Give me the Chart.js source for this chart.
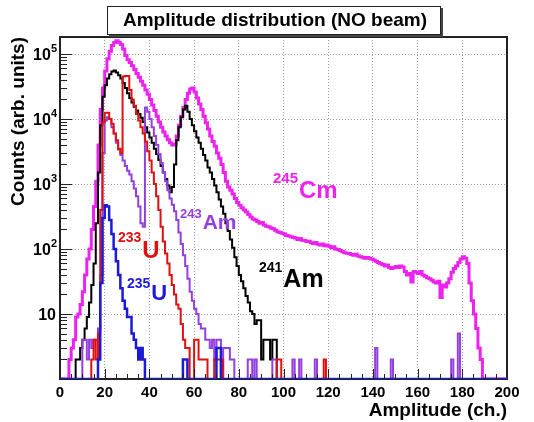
<!DOCTYPE html>
<html>
<head>
<meta charset="utf-8">
<script src="https://cdn.jsdelivr.net/npm/chart.js@4.4.1/dist/chart.umd.min.js"></script>
<style>
  html, body { margin: 0; padding: 0; background: #fff; }
  canvas { display: block; }
</style>
</head>
<body>
<canvas id="amplitudeChart" width="534" height="422"></canvas>
<script>
// counts per channel, bins 0..199 (one channel wide)
const cm245 = [
  0, 0, 0, 0, 0, 2, 3, 4, 9, 10, 14, 22, 40, 70, 100, 200, 450, 1100, 4000, 14000,
  30000, 55000, 85000, 110000, 135000, 150000, 160000, 152000, 140000, 120000, 95000, 82000, 74000, 66000, 58000, 50000, 44000, 38000, 33000, 28000,
  24000, 20000, 16500, 13500, 11000, 9000, 7500, 6300, 5500, 4800, 4300, 4000, 4100, 5500, 8000, 11000, 15000, 20000, 25000, 29000,
  30000, 26000, 21000, 17000, 14000, 11000, 8800, 7000, 5500, 4500, 3800, 3000, 2500, 2000, 1500, 1100, 900, 800, 700, 600,
  520, 470, 430, 400, 370, 340, 310, 290, 280, 265, 250, 255, 235, 225, 220, 210, 205, 195, 185, 180,
  175, 170, 162, 158, 155, 150, 148, 140, 145, 137, 135, 130, 132, 125, 122, 126, 118, 115, 120, 112,
  115, 110, 105, 108, 100, 98, 95, 92, 88, 86, 85, 82, 80, 83, 78, 76, 75, 72, 74, 72,
  70, 68, 65, 62, 60, 58, 55, 57, 52, 50, 52, 54, 52, 55, 53, 45, 40, 42, 31, 45,
  44, 42, 45, 40, 38, 36, 35, 33, 31, 30, 32, 18, 28, 26, 30, 35, 44, 50, 55, 62,
  70, 76, 72, 60, 30, 16, 10, 6, 3, 2, 0, 0, 0, 0, 0, 0, 0, 0, 0, 0
];
const am241 = [
  0, 0, 0, 0, 0, 0, 0, 0, 2, 2, 3, 4, 6, 9, 15, 28, 60, 250, 1500, 8000,
  22000, 33000, 42000, 49000, 54000, 56000, 52000, 47000, 42000, 36000, 30000, 25000, 21000, 18000, 15500, 13500, 12000, 10500, 9000, 7500,
  6200, 5200, 4300, 3500, 2900, 2350, 1900, 1500, 1200, 950, 750, 900, 2000, 4700, 7500, 10700, 14000, 16000, 13000, 10000,
  8000, 6500, 5200, 4300, 3500, 2800, 2300, 1800, 1500, 1200, 950, 750, 580, 450, 350, 250, 190, 140, 105, 75,
  55, 40, 32, 25, 19, 15, 11, 10, 7, 8, 8, 2, 4, 4, 4, 2, 4, 4, 0, 0,
  0, 0, 0, 0, 0, 0, 0, 0, 0, 0, 0, 0, 0, 0, 0, 0, 0, 0, 0, 0,
  0, 0, 0, 0, 0, 0, 0, 0, 0, 0, 0, 0, 0, 0, 0, 0, 0, 0, 0, 0,
  0, 0, 0, 0, 0, 0, 0, 0, 0, 0, 0, 0, 0, 0, 0, 0, 0, 0, 0, 0,
  0, 0, 0, 0, 0, 0, 0, 0, 0, 0, 0, 0, 0, 0, 0, 0, 0, 0, 0, 0,
  0, 0, 0, 0, 0, 0, 0, 0, 0, 0, 0, 0, 0, 0, 0, 0, 0, 0, 0, 0
];
const am243 = [
  0, 0, 0, 0, 0, 0, 0, 0, 0, 0, 0, 4, 4, 2, 4, 3, 4, 4, 6, 40,
  3000, 9500, 10700, 10000, 7500, 6000, 4300, 3400, 2800, 2300, 1900, 1600, 1400, 1100, 850, 650, 450, 250, 220, 15000,
  13000, 10000, 7500, 5500, 4000, 2900, 2100, 1500, 1100, 800, 600, 480, 380, 280, 180, 120, 80, 55, 35, 22,
  16, 12, 10, 7, 6, 6, 4, 4, 3, 4, 2, 4, 4, 0, 3, 3, 3, 2, 2, 0,
  0, 0, 0, 0, 0, 2, 2, 0, 2, 0, 0, 0, 0, 0, 0, 0, 2, 2, 0, 0,
  0, 0, 0, 0, 0, 2, 0, 0, 2, 0, 0, 0, 0, 0, 0, 2, 0, 0, 0, 0,
  0, 0, 0, 0, 0, 0, 0, 0, 0, 0, 0, 0, 0, 0, 0, 0, 0, 0, 0, 0,
  0, 0, 3, 0, 0, 0, 0, 0, 0, 2, 0, 0, 0, 0, 0, 0, 0, 0, 0, 0,
  0, 0, 0, 0, 0, 0, 0, 0, 0, 0, 0, 0, 0, 0, 0, 0, 2, 0, 0, 5,
  0, 0, 0, 0, 0, 0, 0, 0, 0, 0, 0, 0, 0, 0, 0, 0, 0, 0, 0, 0
];
const u233 = [
  0, 0, 0, 0, 0, 0, 0, 0, 0, 0, 0, 0, 0, 0, 0, 2, 4, 2, 5, 400,
  9000, 12500, 12500, 10000, 8500, 6000, 4700, 3500, 3000, 45000, 46000, 46000, 28000, 20000, 16000, 12000, 9500, 7500, 6000, 4500,
  3200, 2300, 1500, 1000, 650, 400, 220, 130, 85, 60, 40, 28, 20, 14, 12, 7, 4, 3, 3, 0,
  0, 4, 4, 2, 2, 2, 2, 0, 0, 0, 2, 2, 2, 2, 0, 0, 0, 0, 0, 0,
  0, 0, 0, 0, 0, 0, 0, 0, 0, 0, 0, 0, 0, 0, 0, 0, 0, 0, 2, 2,
  0, 0, 0, 0, 0, 0, 0, 0, 0, 0, 0, 0, 0, 0, 0, 0, 0, 0, 0, 2,
  0, 0, 0, 0, 0, 0, 0, 0, 0, 0, 0, 0, 0, 0, 0, 0, 0, 0, 0, 0,
  0, 0, 0, 0, 0, 0, 0, 0, 0, 0, 0, 0, 0, 0, 0, 0, 0, 0, 0, 0,
  0, 0, 0, 0, 0, 0, 0, 0, 0, 0, 0, 0, 0, 0, 0, 0, 0, 0, 0, 0,
  0, 0, 0, 0, 0, 0, 0, 0, 0, 0, 0, 0, 0, 0, 0, 0, 0, 0, 0, 0
];
const u235 = [
  0, 0, 0, 0, 0, 0, 0, 0, 0, 0, 0, 0, 0, 0, 0, 0, 0, 0, 2, 30,
  300, 470, 450, 280, 170, 100, 65, 40, 25, 16, 12, 9, 9, 5, 4, 3, 2, 3, 2, 0,
  0, 0, 0, 0, 0, 0, 0, 0, 0, 0, 0, 0, 0, 0, 0, 0, 2, 2, 0, 0,
  0, 0, 0, 0, 0, 0, 0, 0, 0, 0, 0, 3, 3, 0, 0, 0, 0, 0, 0, 0,
  0, 0, 0, 0, 0, 0, 0, 0, 0, 0, 0, 0, 0, 0, 0, 0, 0, 0, 0, 0,
  0, 0, 0, 0, 0, 0, 0, 0, 0, 0, 0, 0, 0, 0, 0, 0, 0, 0, 0, 0,
  0, 0, 0, 0, 0, 0, 0, 0, 0, 0, 0, 0, 0, 0, 0, 0, 0, 0, 0, 0,
  0, 0, 0, 0, 0, 0, 0, 0, 0, 0, 0, 0, 0, 0, 0, 0, 0, 0, 0, 0,
  0, 0, 0, 0, 0, 0, 0, 0, 0, 0, 0, 0, 0, 0, 0, 0, 0, 0, 0, 0,
  0, 0, 0, 0, 0, 0, 0, 0, 0, 0, 0, 0, 0, 0, 0, 0, 0, 0, 0, 0
];

const xTicks = [0, 20, 40, 60, 80, 100, 120, 140, 160, 180, 200];
const yTicks = [1, 10, 100, 1000, 10000, 100000];
const yExponents = ['', '', '2', '3', '4', '5'];

const Y_MIN = 1;
const Y_MAX = 1.83e5;
const FONT = '"Liberation Sans", Arial, sans-serif';

// histogram -> step points (bin low edges + closing edge)
function toSteps(counts) {
    const pts = counts.map(function(c, i) { return { x: i, y: Math.max(c, Y_MIN) }; });
    pts.push({ x: counts.length, y: Math.max(counts[counts.length - 1], Y_MIN) });
    return pts;
}

function histo(label, counts, color, width) {
    return {
        label: label,
        data: toSteps(counts),
        borderColor: color,
        borderWidth: width,
        stepped: 'after',
        pointRadius: 0,
        fill: false,
        borderJoinStyle: 'miter'
    };
}

function drawIsotope(ctx, sup, main, x, base, color, supSize, mainSize, rise) {
    ctx.fillStyle = color;
    ctx.textAlign = 'left';
    ctx.textBaseline = 'alphabetic';
    ctx.font = 'bold ' + supSize + 'px ' + FONT;
    ctx.fillText(sup, x, base - rise);
    const w = ctx.measureText(sup).width;
    ctx.font = 'bold ' + mainSize + 'px ' + FONT;
    ctx.fillText(main, x + w + 1, base);
}

const rootStyle = {
    id: 'rootStyle',
    beforeDraw(chart) {
        const ctx = chart.ctx;
        ctx.save();
        ctx.fillStyle = '#ffffff';
        ctx.fillRect(0, 0, chart.width, chart.height);
        ctx.restore();
    },
    beforeDatasetsDraw(chart) {
        const a = chart.chartArea;
        const ctx = chart.ctx;
        ctx.save();
        ctx.strokeStyle = '#222';
        ctx.lineWidth = 2;
        ctx.strokeRect(a.left, a.top, a.right - a.left, a.bottom - a.top);
        ctx.restore();
    },
    afterDraw(chart) {
        const ctx = chart.ctx;
        const a = chart.chartArea;
        const xs = chart.scales.x;
        const ys = chart.scales.y;
        ctx.save();
        ctx.strokeStyle = '#222';
        ctx.lineWidth = 1;

        // x ticks (inside, pointing up)
        for (let v = 0; v <= 200; v += 5) {
            const px = Math.round(xs.getPixelForValue(v)) + 0.5;
            const len = (v % 20 === 0) ? 10 : 5;
            ctx.beginPath();
            ctx.moveTo(px, a.bottom);
            ctx.lineTo(px, a.bottom - len);
            ctx.stroke();
        }
        // y ticks (inside, pointing right), log minor ticks
        for (let d = 0; d <= 5; d++) {
            for (let m = 1; m <= 9; m++) {
                const v = m * Math.pow(10, d);
                if (v > Y_MAX) break;
                const py = Math.round(ys.getPixelForValue(v)) + 0.5;
                const len = (m === 1) ? 12 : 7;
                ctx.beginPath();
                ctx.moveTo(a.left, py);
                ctx.lineTo(a.left + len, py);
                ctx.stroke();
            }
        }

        // y tick labels: 10 with raised exponent
        ctx.fillStyle = '#000';
        ctx.textBaseline = 'alphabetic';
        yTicks.forEach(function(v, i) {
            if (i === 0) return;
            const py = ys.getPixelForValue(v);
            const exp = yExponents[i];
            ctx.font = 'bold 11px ' + FONT;
            const we = exp ? ctx.measureText(exp).width : 0;
            if (exp) {
                ctx.textAlign = 'left';
                ctx.fillText(exp, 57 - we, py - 2);
            }
            ctx.font = 'bold 16px ' + FONT;
            ctx.textAlign = 'right';
            ctx.fillText('10', exp ? 57 - we : 56, py + 6);
        });

        // title box with shadow
        ctx.fillStyle = '#444';
        ctx.fillRect(109, 8, 334, 29);
        ctx.fillStyle = '#ffffff';
        ctx.fillRect(107, 6, 334, 29);
        ctx.strokeStyle = '#222';
        ctx.strokeRect(107.5, 6.5, 333, 28);
        ctx.fillStyle = '#000';
        ctx.font = 'bold 19px ' + FONT;
        ctx.textAlign = 'center';
        ctx.textBaseline = 'middle';
        ctx.fillText('Amplitude distribution (NO beam)', 275, 21);

        // axis titles
        ctx.textAlign = 'right';
        ctx.fillText('Amplitude (ch.)', 507, 411);
        ctx.save();
        ctx.translate(19, 37);
        ctx.rotate(-Math.PI / 2);
        ctx.textAlign = 'right';
        ctx.fillText('Counts (arb. units)', 0, 0);
        ctx.restore();

        // isotope labels
        drawIsotope(ctx, '245', 'Cm', 273, 198, '#ee22ee', 15, 24, 15);
        drawIsotope(ctx, '243', 'Am', 180, 229, '#9440e0', 13, 21, 11);
        drawIsotope(ctx, '241', 'Am', 259, 287, '#000000', 14, 25, 15);
        drawIsotope(ctx, '233', 'U', 118, 258, '#e01010', 14, 24, 16);
        drawIsotope(ctx, '235', 'U', 127, 300, '#1a1ad8', 14, 22, 12);
        ctx.restore();
    }
};

new Chart(document.getElementById('amplitudeChart'), {
    type: 'line',
    data: {
        datasets: [
            histo('235U', u235, '#1a1ad8', 2.5),
            histo('233U', u233, '#e01010', 2),
            histo('243Am', am243, '#9440e0', 2),
            histo('241Am', am241, '#000000', 2),
            histo('245Cm', cm245, '#ee22ee', 3)
        ]
    },
    options: {
        responsive: false,
        animation: false,
        layout: { padding: { top: 37, right: 27, left: 0, bottom: 0 } },
        plugins: {
            legend: { display: false },
            tooltip: { enabled: false }
        },
        scales: {
            x: {
                type: 'linear',
                min: 0,
                max: 200,
                afterFit: function(scale) { scale.height = 43; },
                afterBuildTicks: function(scale) {
                    scale.ticks = xTicks.map(function(v) { return { value: v }; });
                },
                grid: {
                    drawTicks: false,
                    color: function(c) {
                        const v = c.tick ? c.tick.value : 0;
                        return (v === 0 || v === 200) ? 'rgba(0,0,0,0)' : '#9a9a9a';
                    },
                    lineWidth: 1
                },
                border: { display: false, dash: [1, 2] },
                ticks: {
                    color: '#000',
                    padding: 5,
                    maxRotation: 0,
                    autoSkip: false,
                    font: { family: FONT, size: 15, weight: 'bold' }
                }
            },
            y: {
                type: 'logarithmic',
                min: Y_MIN,
                max: Y_MAX,
                afterFit: function(scale) { scale.width = 60; },
                afterBuildTicks: function(scale) {
                    scale.ticks = yTicks.map(function(v) { return { value: v }; });
                },
                grid: {
                    drawTicks: false,
                    color: function(c) {
                        const v = c.tick ? c.tick.value : 1;
                        return (v === 1) ? 'rgba(0,0,0,0)' : '#9a9a9a';
                    },
                    lineWidth: 1
                },
                border: { display: false, dash: [1, 2] },
                ticks: { display: false }
            }
        }
    },
    plugins: [rootStyle]
});
</script>
</body>
</html>
